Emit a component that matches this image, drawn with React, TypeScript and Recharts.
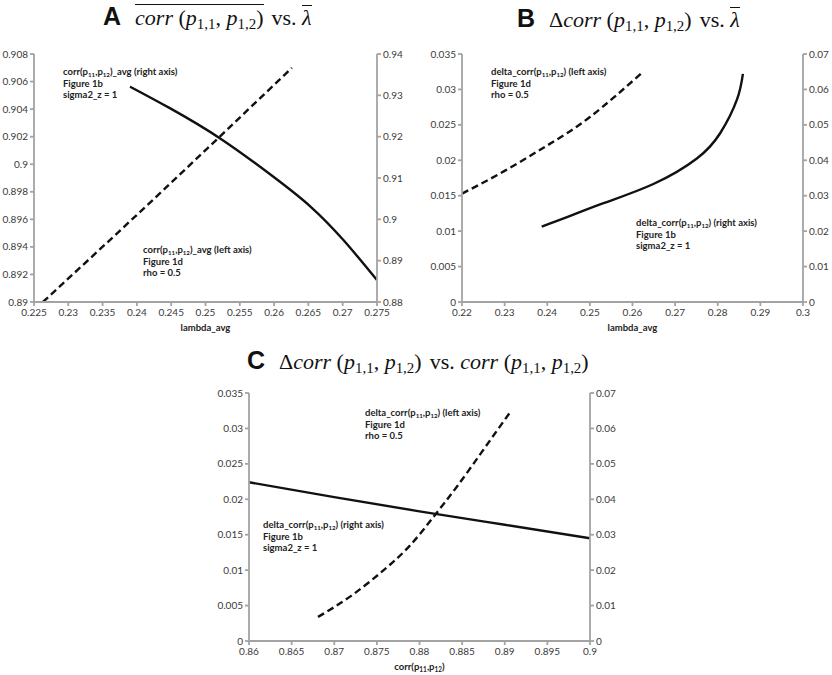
import React from 'react'
import { LineChart, Line, XAxis, YAxis, Label } from 'recharts'

// Panel A: corr avg vs lambda_avg
const aDashLambda = [0.2263, 0.2438, 0.2626]
const aDashCorr = [0.89, 0.8981, 0.907]
const aSolidLambda = [0.239, 0.2448, 0.2523, 0.2599, 0.2653, 0.2701, 0.275]
const aSolidCorr = [0.9321, 0.9269, 0.9194, 0.9103, 0.9031, 0.895, 0.8853]
const aXTicks = [0.225, 0.23, 0.235, 0.24, 0.245, 0.25, 0.255, 0.26, 0.265, 0.27, 0.275]
const aLeftTicks = [0.89, 0.892, 0.894, 0.896, 0.898, 0.9, 0.902, 0.904, 0.906, 0.908]
const aRightTicks = [0.88, 0.89, 0.9, 0.91, 0.92, 0.93, 0.94]

// Panel B: delta corr vs lambda_avg
const bDashLambda = [0.22, 0.23, 0.24, 0.25, 0.2625]
const bDashDelta = [0.0153, 0.0185, 0.0221, 0.0261, 0.0325]
const bSolidLambda = [0.2387, 0.2454, 0.2532, 0.2649, 0.2751, 0.2806, 0.2845, 0.2859]
const bSolidDelta = [0.0213, 0.0243, 0.0279, 0.0333, 0.0405, 0.0477, 0.0571, 0.0644]
const bXTicks = [0.22, 0.23, 0.24, 0.25, 0.26, 0.27, 0.28, 0.29, 0.3]

// Panel C: delta corr vs corr
const cDashCorr = [0.8681, 0.8719, 0.8758, 0.8789, 0.8817, 0.8844, 0.8875, 0.8907]
const cDashDelta = [0.0034, 0.0063, 0.01, 0.0135, 0.0176, 0.0218, 0.027, 0.0324]
const cSolidCorr = [0.86, 0.87, 0.88, 0.89, 0.9]
const cSolidDelta = [0.0448, 0.0406, 0.0366, 0.0328, 0.029]
const cXTicks = [0.86, 0.865, 0.87, 0.875, 0.88, 0.885, 0.89, 0.895, 0.9]

const deltaLeftTicks = [0, 0.005, 0.01, 0.015, 0.02, 0.025, 0.03, 0.035]
const deltaRightTicks = [0, 0.01, 0.02, 0.03, 0.04, 0.05, 0.06, 0.07]

const axisColor = '#a3a3a3'
const smallFont = 'Lato, "Liberation Sans", sans-serif'
const mathFont = '"Liberation Serif", "DejaVu Serif", serif'

const pts = (xs: number[], ys: number[]) => xs.map((x, i) => ({ x, y: ys[i] }))
const fmt = (v: number) => String(Number(v.toFixed(4)))

const tickStyle = { fontSize: 10, fill: '#3a3a3a', fontFamily: smallFont }

const P = ({ s }: { s: string }) => (
  <>
    <i>p</i>
    <sub style={{ fontSize: '0.68em', fontStyle: 'normal', verticalAlign: '-0.3em' }}>{s}</sub>
  </>
)

const CorrMath = () => (
  <span>
    <i>corr</i>&nbsp;(<P s="1,1" />, <P s="1,2" />)
  </span>
)

const Title = ({ left, top, letter, children }: any) => (
  <div
    style={{
      position: 'absolute',
      left,
      top,
      display: 'flex',
      alignItems: 'baseline',
      whiteSpace: 'nowrap',
      fontFamily: mathFont,
      fontSize: 22,
      color: '#111',
    }}
  >
    <span style={{ fontFamily: '"Liberation Sans", Arial, sans-serif', fontWeight: 'bold', fontSize: 25, marginRight: 14 }}>
      {letter}
    </span>
    {children}
  </div>
)

const Note = ({ left, top, lines }: any) => (
  <div
    style={{
      position: 'absolute',
      left,
      top,
      fontFamily: smallFont,
      fontWeight: 'bold',
      fontSize: 9.5,
      lineHeight: '11.7px',
      color: '#222',
      whiteSpace: 'nowrap',
    }}
  >
    {lines.map((l: any, i: number) => (
      <div key={i}>{l}</div>
    ))}
  </div>
)

const Sub = ({ s }: { s: string }) => (
  <sub style={{ fontSize: '0.65em', verticalAlign: '-0.25em', lineHeight: 0 }}>{s}</sub>
)

const XLabel = (parts: React.ReactNode) => (props: any) => {
  const { x, y, width, height } = props.viewBox
  return (
    <text
      x={x + width / 2}
      y={y + height + 9}
      textAnchor="middle"
      fontFamily={smallFont}
      fontWeight="bold"
      fontSize={9.5}
      fill="#222"
    >
      {parts}
    </text>
  )
}

function Panel(props: any) {
  const {
    width, height, margin, leftW, rightW, xDomain, xTicks, lDomain, lTicks, rDomain, rTicks, xLabel, dashed, solid,
  } = props
  return (
    <LineChart width={width} height={height} margin={margin}>
      <XAxis
        xAxisId="x"
        dataKey="x"
        type="number"
        domain={xDomain}
        ticks={xTicks}
        allowDataOverflow
        tickFormatter={fmt}
        stroke={axisColor}
        strokeWidth={1.8}
        tick={tickStyle}
        tickSize={4}
        tickMargin={3}
        height={20}
        interval={0}
      >
        <Label content={XLabel(xLabel)} />
      </XAxis>
      <YAxis
        yAxisId="left"
        type="number"
        domain={lDomain}
        ticks={lTicks}
        allowDataOverflow
        tickFormatter={fmt}
        stroke={axisColor}
        strokeWidth={1.8}
        tick={tickStyle}
        tickSize={4}
        tickMargin={2}
        width={leftW}
        interval={0}
      />
      <YAxis
        yAxisId="right"
        orientation="right"
        type="number"
        domain={rDomain}
        ticks={rTicks}
        allowDataOverflow
        tickFormatter={fmt}
        stroke={axisColor}
        strokeWidth={1.8}
        tick={tickStyle}
        tickSize={4}
        tickMargin={2}
        width={rightW}
        interval={0}
      />
      <Line
        xAxisId="x"
        yAxisId="left"
        data={dashed}
        dataKey="y"
        type="natural"
        stroke="#111"
        strokeWidth={2.4}
        strokeDasharray="7 4"
        dot={false}
        isAnimationActive={false}
      />
      <Line
        xAxisId="x"
        yAxisId="right"
        data={solid}
        dataKey="y"
        type="natural"
        stroke="#111"
        strokeWidth={2.4}
        dot={false}
        isAnimationActive={false}
      />
    </LineChart>
  )
}

const corrSub = (
  <>
    corr(p<tspan fontSize={6.5} dy={2}>11</tspan>
    <tspan dy={-2}>,p</tspan>
    <tspan fontSize={6.5} dy={2}>12</tspan>
    <tspan dy={-2}>)</tspan>
  </>
)

export default function App() {
  return (
    <div style={{ position: 'fixed', left: 0, top: 0, width: 832, height: 675, background: '#fff', overflow: 'hidden' }}>
      <Title left={103} top={2} letter="A">
        <span style={{ borderTop: '1.5px solid #111', paddingTop: 1, lineHeight: '24px' }}>
          <CorrMath />
        </span>
        <span style={{ marginLeft: 8 }}>vs.&nbsp;</span>
        <span style={{ borderTop: '1.5px solid #111', lineHeight: '24px' }}>
          <i>λ</i>
        </span>
      </Title>
      <Title left={517} top={4} letter="B">
        <span>
          Δ<CorrMath />
        </span>
        <span style={{ marginLeft: 8 }}>vs.&nbsp;</span>
        <span style={{ borderTop: '1.5px solid #111', lineHeight: '24px' }}>
          <i>λ</i>
        </span>
      </Title>
      <Title left={247} top={346} letter="C">
        <span>
          Δ<CorrMath />
        </span>
        <span style={{ marginLeft: 8 }}>vs.&nbsp;</span>
        <CorrMath />
      </Title>

      <div style={{ position: 'absolute', left: 0, top: 0 }}>
        <Panel
          width={410}
          height={340}
          margin={{ top: 54, right: 0, left: 0, bottom: 18 }}
          leftW={34}
          rightW={33}
          xDomain={[0.225, 0.275]}
          xTicks={aXTicks}
          lDomain={[0.89, 0.908]}
          lTicks={aLeftTicks}
          rDomain={[0.88, 0.94]}
          rTicks={aRightTicks}
          xLabel="lambda_avg"
          dashed={pts(aDashLambda, aDashCorr)}
          solid={pts(aSolidLambda, aSolidCorr)}
        />
      </div>
      <div style={{ position: 'absolute', left: 410, top: 0 }}>
        <Panel
          width={422}
          height={340}
          margin={{ top: 54, right: 0, left: 0, bottom: 18 }}
          leftW={52}
          rightW={29}
          xDomain={[0.22, 0.3]}
          xTicks={bXTicks}
          lDomain={[0, 0.035]}
          lTicks={deltaLeftTicks}
          rDomain={[0, 0.07]}
          rTicks={deltaRightTicks}
          xLabel="lambda_avg"
          dashed={pts(bDashLambda, bDashDelta)}
          solid={pts(bSolidLambda, bSolidDelta)}
        />
      </div>
      <div style={{ position: 'absolute', left: 200, top: 330 }}>
        <Panel
          width={450}
          height={345}
          margin={{ top: 63, right: 0, left: 0, bottom: 14 }}
          leftW={49}
          rightW={60}
          xDomain={[0.86, 0.9]}
          xTicks={cXTicks}
          lDomain={[0, 0.035]}
          lTicks={deltaLeftTicks}
          rDomain={[0, 0.07]}
          rTicks={deltaRightTicks}
          xLabel={corrSub}
          dashed={pts(cDashCorr, cDashDelta)}
          solid={pts(cSolidCorr, cSolidDelta)}
        />
      </div>

      <Note
        left={63}
        top={66}
        lines={[
          <>corr(p<Sub s="11" />,p<Sub s="12" />)_avg (right axis)</>,
          'Figure 1b',
          'sigma2_z = 1',
        ]}
      />
      <Note
        left={143}
        top={244}
        lines={[
          <>corr(p<Sub s="11" />,p<Sub s="12" />)_avg (left axis)</>,
          'Figure 1d',
          'rho = 0.5',
        ]}
      />
      <Note
        left={491}
        top={66}
        lines={[
          <>delta_corr(p<Sub s="11" />,p<Sub s="12" />) (left axis)</>,
          'Figure 1d',
          'rho = 0.5',
        ]}
      />
      <Note
        left={636}
        top={217}
        lines={[
          <>delta_corr(p<Sub s="11" />,p<Sub s="12" />) (right axis)</>,
          'Figure 1b',
          'sigma2_z = 1',
        ]}
      />
      <Note
        left={365}
        top={407}
        lines={[
          <>delta_corr(p<Sub s="11" />,p<Sub s="12" />) (left axis)</>,
          'Figure 1d',
          'rho = 0.5',
        ]}
      />
      <Note
        left={263}
        top={519}
        lines={[
          <>delta_corr(p<Sub s="11" />,p<Sub s="12" />) (right axis)</>,
          'Figure 1b',
          'sigma2_z = 1',
        ]}
      />
    </div>
  )
}
